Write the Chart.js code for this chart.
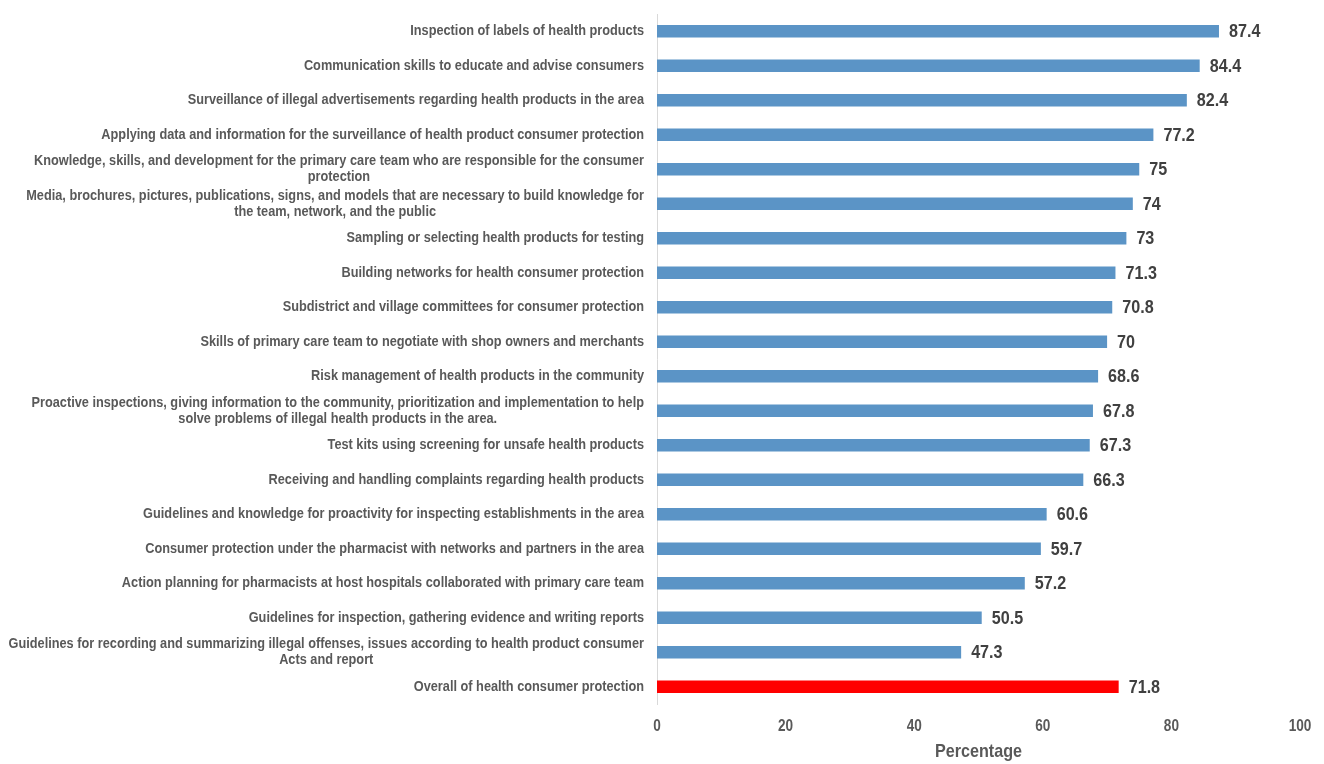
<!DOCTYPE html>
<html>
<head>
<meta charset="utf-8">
<script src="https://cdn.jsdelivr.net/npm/chart.js@4"></script>
<style>
  html, body { margin: 0; padding: 0; background: #fff; }
  #wrap { width: 1324px; height: 764px; position: relative; }
</style>
</head>
<body>
<div id="wrap"><canvas id="ar"></canvas></div>
<script>
// categories (multi-line ones are split into arrays)
const categories = [
  'Inspection of labels of health products',
  'Communication skills to educate and advise consumers',
  'Surveillance of illegal advertisements regarding health products in the area',
  'Applying data and information for the surveillance of health product consumer protection',
  ['Knowledge, skills, and development for the primary care team who are responsible for the consumer', 'protection'],
  ['Media, brochures, pictures, publications, signs, and models that are necessary to build knowledge for', 'the team, network, and the public'],
  'Sampling or selecting health products for testing',
  'Building networks for health consumer protection',
  'Subdistrict and village committees for consumer protection',
  'Skills of primary care team to negotiate with shop owners and merchants',
  'Risk management of health products in the community',
  ['Proactive inspections, giving information to the community, prioritization and implementation to help', 'solve problems of illegal health products in the area.'],
  'Test kits using screening for unsafe health products',
  'Receiving and handling complaints regarding health products',
  'Guidelines and knowledge for proactivity for inspecting establishments in the area',
  'Consumer protection under the pharmacist with networks and partners in the area',
  'Action planning for pharmacists at host hospitals collaborated with primary care team',
  'Guidelines for inspection, gathering evidence and writing reports',
  ['Guidelines for recording and summarizing illegal offenses, issues according to health product consumer', 'Acts and report'],
  'Overall of health consumer protection'
];

const percentages = [87.4, 84.4, 82.4, 77.2, 75, 74, 73, 71.3, 70.8, 70, 68.6, 67.8, 67.3, 66.3, 60.6, 59.7, 57.2, 50.5, 47.3, 71.8];

const xTicks = [0, 20, 40, 60, 80, 100];
const axisTitle = 'Percentage';

const FONT = "'Liberation Sans', Arial, sans-serif";
const SQUEEZE = 0.85; // condensed look, like Arial Narrow
const barColors = percentages.map((v, i) => i === percentages.length - 1 ? '#ff0000' : '#5b94c6');

// draw text squeezed horizontally around its anchor point
function narrowText(ctx, text, x, y, align) {
  ctx.save();
  ctx.translate(x, y);
  ctx.scale(SQUEEZE, 1);
  ctx.textAlign = align;
  ctx.fillText(text, 0, 0);
  ctx.restore();
}

// category labels, each block centered and right-aligned to the axis
const categoryLabels = {
  id: 'categoryLabels',
  afterDraw(chart) {
    const ctx = chart.ctx;
    const y = chart.scales.y;
    const right = chart.chartArea.left - 13;
    ctx.save();
    ctx.font = 'bold 15px ' + FONT;
    ctx.fillStyle = '#595959';
    ctx.textBaseline = 'middle';
    categories.forEach((lab, i) => {
      const lines = Array.isArray(lab) ? lab : [lab];
      const maxW = Math.max(...lines.map(l => ctx.measureText(l).width)) * SQUEEZE;
      const cx = right - maxW / 2;
      const cy = y.getPixelForTick(i);
      const lh = 16;
      const start = cy - (lines.length - 1) * lh / 2;
      lines.forEach((l, k) => narrowText(ctx, l, cx, start + k * lh, 'center'));
    });
    ctx.restore();
  }
};

// x tick labels and axis title
const xAxisText = {
  id: 'xAxisText',
  afterDraw(chart) {
    const ctx = chart.ctx;
    const x = chart.scales.x;
    const bottom = chart.chartArea.bottom;
    ctx.save();
    ctx.fillStyle = '#595959';
    ctx.textBaseline = 'middle';
    ctx.font = 'bold 16px ' + FONT;
    xTicks.forEach(v => narrowText(ctx, String(v), x.getPixelForValue(v), bottom + 23, 'center'));
    ctx.font = 'bold 19px ' + FONT;
    narrowText(ctx, axisTitle, (chart.chartArea.left + chart.chartArea.right) / 2, bottom + 48, 'center');
    ctx.restore();
  }
};

// value labels at the end of each bar
const valueLabels = {
  id: 'valueLabels',
  afterDatasetsDraw(chart) {
    const ctx = chart.ctx;
    const meta = chart.getDatasetMeta(0);
    ctx.save();
    ctx.font = 'bold 19px ' + FONT;
    ctx.fillStyle = '#404040';
    ctx.textBaseline = 'middle';
    meta.data.forEach((bar, i) => {
      narrowText(ctx, String(percentages[i]), bar.x + 10, bar.y + 1, 'left');
    });
    ctx.restore();
  }
};

const ctx = document.getElementById('ar').getContext('2d');
const myChart = new Chart(ctx, {
  type: 'bar',
  data: {
    labels: categories,
    datasets: [{
      data: percentages,
      backgroundColor: barColors,
      borderWidth: 0,
      barPercentage: 0.36,
      categoryPercentage: 1
    }]
  },
  options: {
    indexAxis: 'y',
    responsive: true,
    maintainAspectRatio: false,
    animation: false,
    layout: { padding: { top: 14, right: 24, bottom: 0, left: 0 } },
    plugins: { legend: { display: false }, tooltip: { enabled: false } },
    scales: {
      x: {
        min: 0,
        max: 100,
        afterBuildTicks: s => { s.ticks = xTicks.map(v => ({ value: v })); },
        grid: { display: false },
        border: { display: false },
        ticks: { display: false },
        afterFit: s => { s.height = 60; }
      },
      y: {
        grid: { display: false },
        border: { color: '#d9d9d9', width: 1 },
        ticks: { display: false },
        afterFit: s => { s.width = 657; }
      }
    }
  },
  plugins: [categoryLabels, valueLabels, xAxisText]
});

myChart.update();
</script>
</body>
</html>
